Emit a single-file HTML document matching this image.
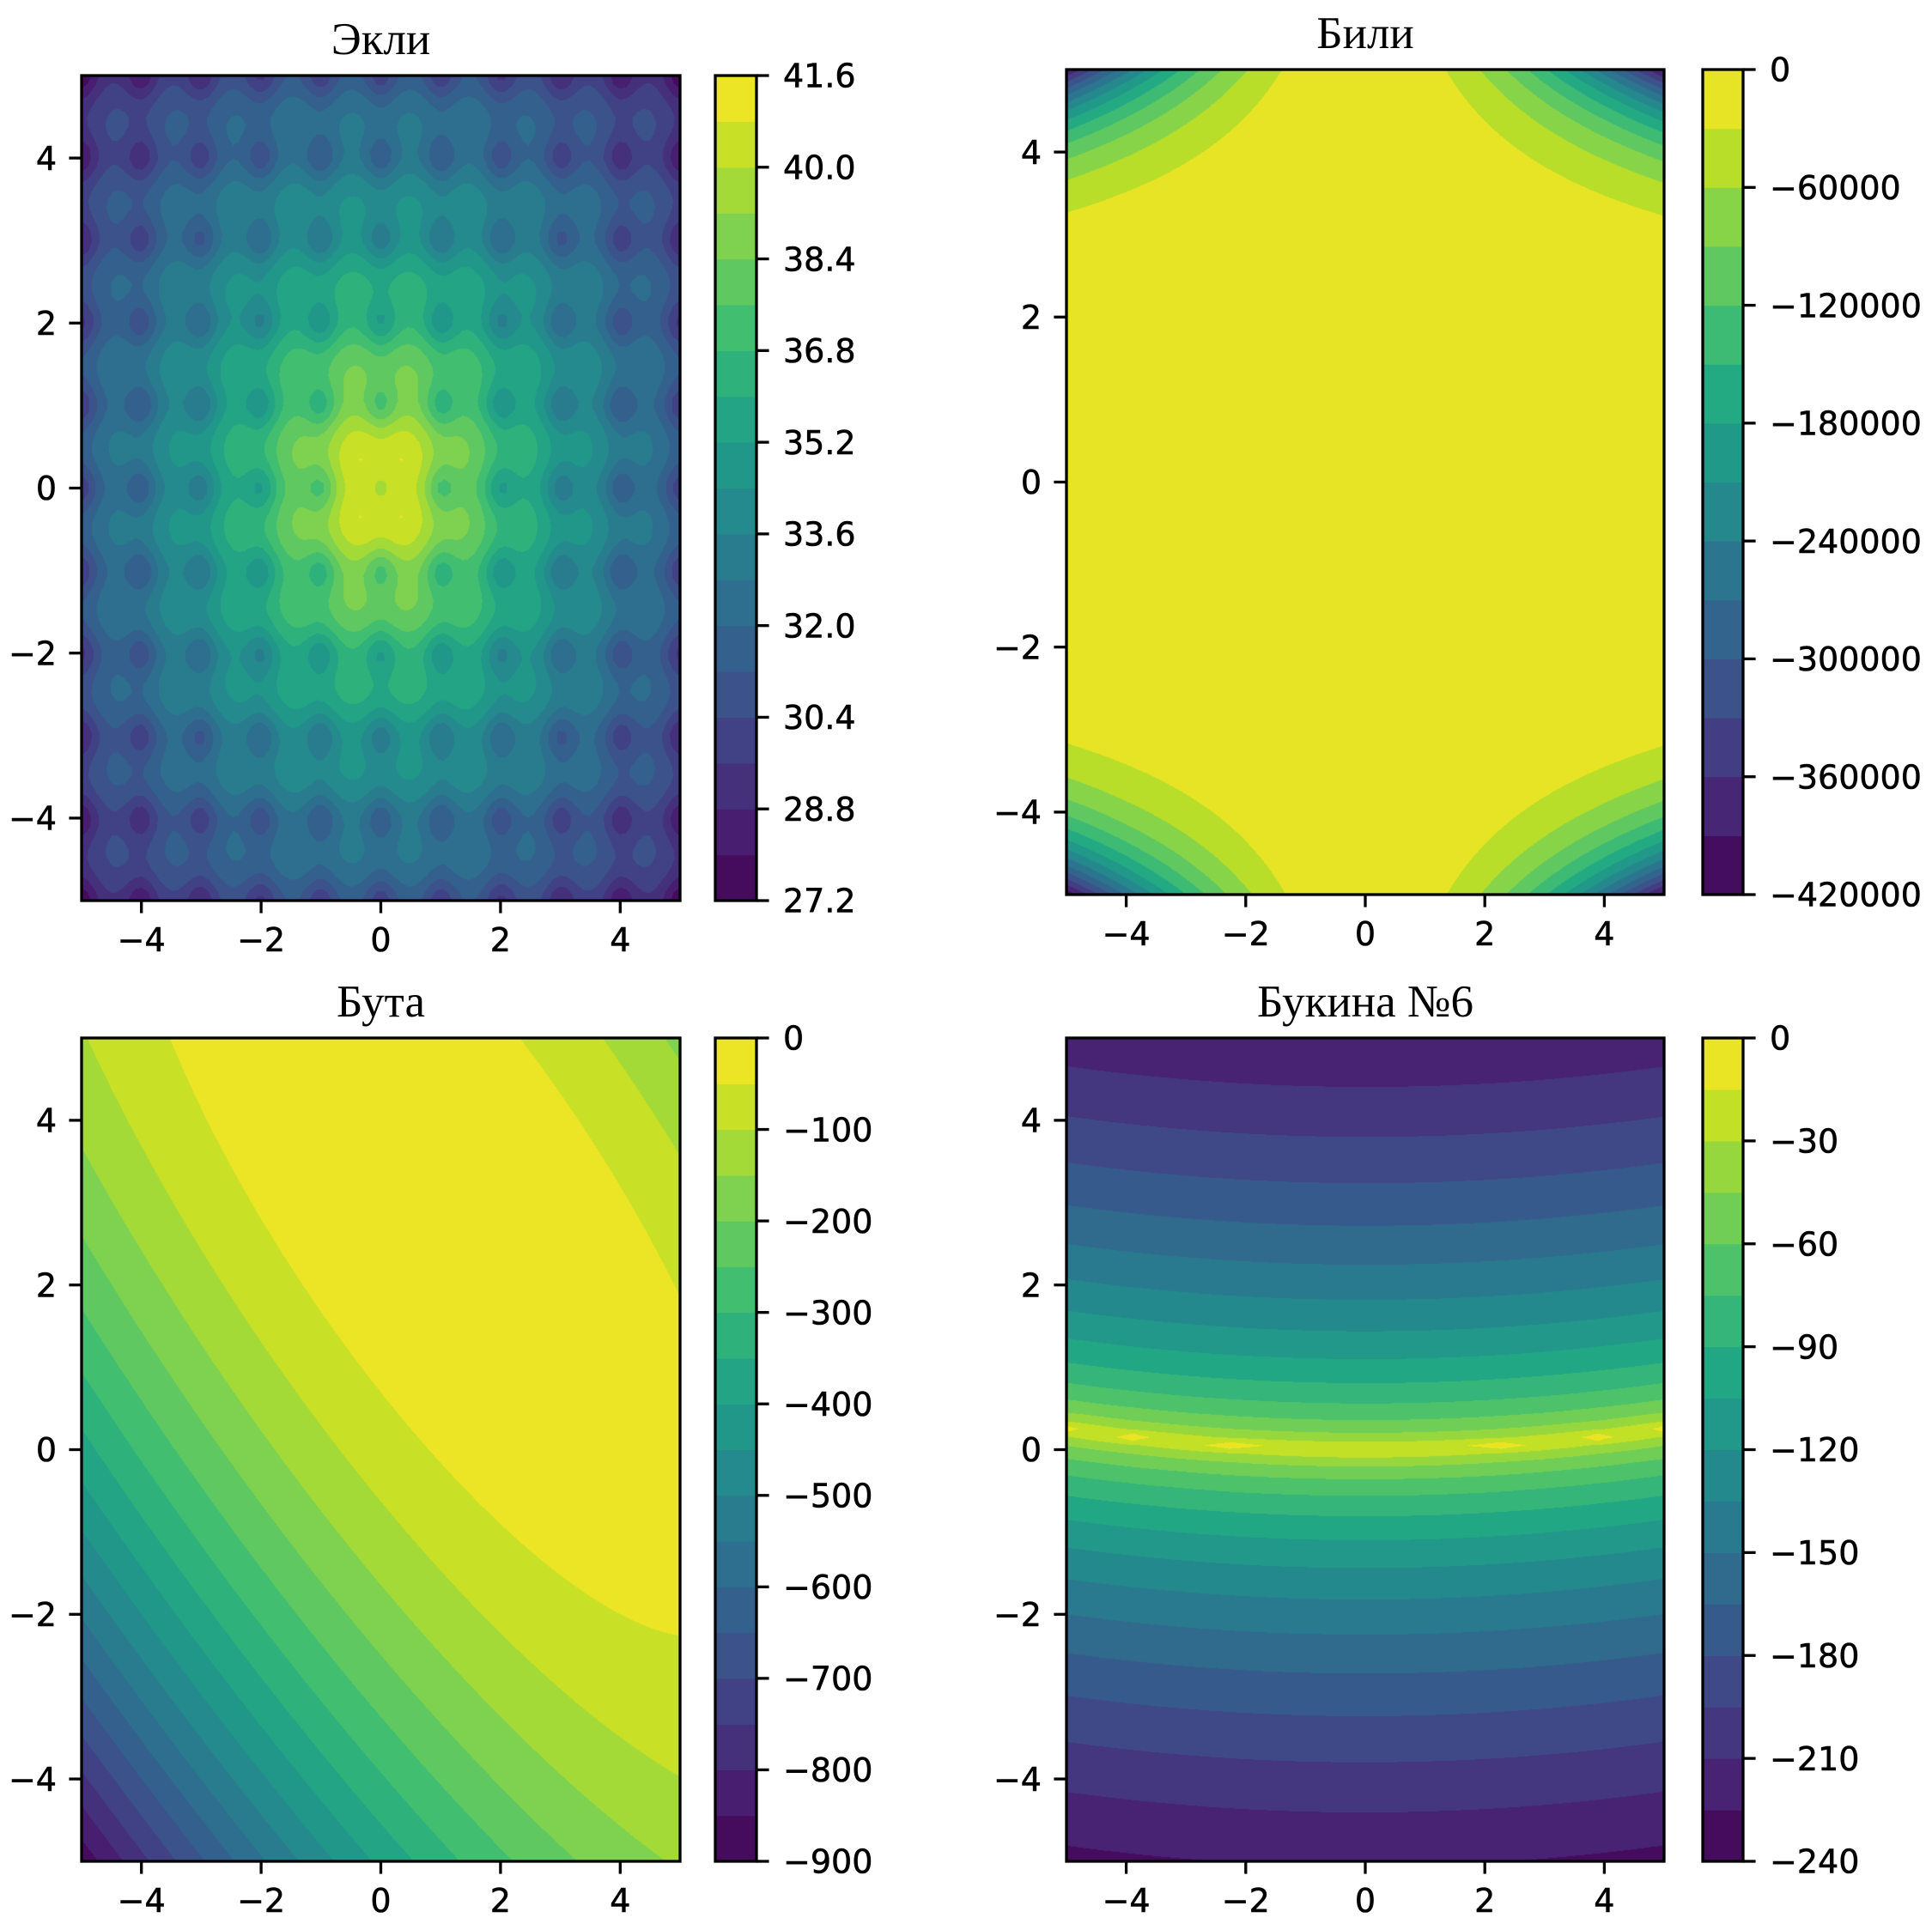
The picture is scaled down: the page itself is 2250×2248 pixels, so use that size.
<!DOCTYPE html>
<html><head><meta charset="utf-8">
<style>
html,body{margin:0;padding:0;background:#fff;}
#wrap{position:relative;width:2250px;height:2248px;overflow:hidden;background:#fff;}
canvas{position:absolute;}
svg{position:absolute;left:0;top:0;}
</style></head>
<body>
<div id="wrap">
<canvas id="c0"></canvas>
<canvas id="c1"></canvas>
<canvas id="c2"></canvas>
<canvas id="c3"></canvas>
<svg id="ov" width="2250" height="2248"></svg>
</div>
<script>
// ---- data ----
const xTicks = [-4, -2, 0, 2, 4];
const yTicks = [-4, -2, 0, 2, 4];
const titles = ["Экли", "Били", "Бута", "Букина №6"];
const ackleyLevelRange = [27.2, 41.6];
const ackleyBands = 18;
const ackleyCbTicks = [27.2, 28.8, 30.4, 32.0, 33.6, 35.2, 36.8, 38.4, 40.0, 41.6];
const bealeLevelRange = [-420000, 0];
const bealeBands = 14;
const bealeCbTicks = [-420000, -360000, -300000, -240000, -180000, -120000, -60000, 0];
const boothLevelRange = [-900, 0];
const boothBands = 18;
const boothCbTicks = [-900, -800, -700, -600, -500, -400, -300, -200, -100, 0];
const bukinLevelRange = [-240, 0];
const bukinBands = 16;
const bukinCbTicks = [-240, -210, -180, -150, -120, -90, -60, -30, 0];
const gridN = 100;

const VIR = ["#440154","#482475","#414487","#355f8d","#2a788e","#21918c","#22a884","#44bf70","#7ad151","#bddf26","#fde725"];
function hex(h){return [parseInt(h.substr(1,2),16),parseInt(h.substr(3,2),16),parseInt(h.substr(5,2),16)];}
const VIRC = VIR.map(hex);
function viridis(t){
  t=Math.max(0,Math.min(1,t))*10; const i=Math.min(9,Math.floor(t)); const f=t-i;
  const a=VIRC[i], b=VIRC[i+1];
  return [Math.round(a[0]+(b[0]-a[0])*f),Math.round(a[1]+(b[1]-a[1])*f),Math.round(a[2]+(b[2]-a[2])*f)];
}
const E=Math.E, PI=Math.PI;
const fns = [
  (x,y)=>20*Math.exp(-0.2*Math.sqrt(0.5*(x*x+y*y))) - Math.exp(0.5*(Math.cos(2*PI*x)+Math.cos(2*PI*y))) + E + 20,
  (x,y)=>-(Math.pow(1.5-x+x*y,2)+Math.pow(2.25-x+x*y*y,2)+Math.pow(2.625-x+x*y*y*y,2)),
  (x,y)=>-(Math.pow(x+2*y-7,2)+Math.pow(2*x+y-5,2)),
  (x,y)=>-(100*Math.sqrt(Math.abs(y-0.01*x*x))+0.01*Math.abs(x+10))
];
const ranges=[ackleyLevelRange,bealeLevelRange,boothLevelRange,bukinLevelRange];
const bands=[ackleyBands,bealeBands,boothBands,bukinBands];
const cbTicks=[ackleyCbTicks,bealeCbTicks,boothCbTicks,bukinCbTicks];
const decimals=[1,0,0,0];
const boxes=[
  {x0:95,y0:88,x1:792,y1:1049,c0:833,c1:881},
  {x0:1242,y0:81,x1:1938,y1:1042,c0:1983,c1:2030},
  {x0:95,y0:1209,x1:792,y1:2168,c0:833,c1:881},
  {x0:1242,y0:1209,x1:1938,y1:2168,c0:1983,c1:2030}
];
const NS="http://www.w3.org/2000/svg";
const ov=document.getElementById('ov');
function mk(tag,attrs,parent){const e=document.createElementNS(NS,tag);for(const k in attrs)e.setAttribute(k,attrs[k]);(parent||ov).appendChild(e);return e;}
function fmt(v,d){const s=Math.abs(v).toFixed(d);return (v<0?"\u2212":"")+s;}
const TICKFONT='font-family:"DejaVu Sans","Liberation Sans",sans-serif;font-size:38px;fill:#000;stroke:#000;stroke-width:0.6px';

for(let p=0;p<4;p++){
  const b=boxes[p], W=b.x1-b.x0, H=b.y1-b.y0;
  const [lmin,lmax]=ranges[p], n=bands[p], step=(lmax-lmin)/n;
  const sx=v=>b.x0+(v+5)/10*W, sy=v=>b.y1-(v+5)/10*H;
  const cols=[]; for(let k=0;k<n;k++) cols.push(viridis((k+0.5)/n));
  // sample grid (like meshgrid of linspace)
  const N=gridN, gs=10/(N-1), G=new Float64Array(N*N);
  for(let a=0;a<N;a++)for(let c=0;c<N;c++)G[a*N+c]=fns[p](-5+c*gs,-5+a*gs);
  const cv=document.getElementById('c'+p);
  cv.width=W; cv.height=H; cv.style.left=b.x0+'px'; cv.style.top=b.y0+'px';
  const ctx=cv.getContext('2d'); const img=ctx.createImageData(W,H); const d=img.data;
  for(let j=0;j<H;j++){const y=5-10*(j+0.5)/H;
    let fy=(y+5)/gs; let ia=Math.min(N-2,Math.floor(fy)); fy-=ia;
    for(let i=0;i<W;i++){const x=-5+10*(i+0.5)/W;
      let fx=(x+5)/gs; let ic=Math.min(N-2,Math.floor(fx)); fx-=ic;
      const v00=G[ia*N+ic],v01=G[ia*N+ic+1],v10=G[(ia+1)*N+ic],v11=G[(ia+1)*N+ic+1];
      const v=(v00*(1-fx)+v01*fx)*(1-fy)+(v10*(1-fx)+v11*fx)*fy;
      let k=Math.floor((v-lmin)/step); if(k<0)k=0; if(k>n-1)k=n-1;
      const cc=cols[k], o=(j*W+i)*4; d[o]=cc[0];d[o+1]=cc[1];d[o+2]=cc[2];d[o+3]=255;}}
  ctx.putImageData(img,0,0);
  const g=mk('g',{});
  
  
  const fr=mk('rect',{x:b.x0,y:b.y0,width:W,height:H,fill:'none',stroke:'#000','stroke-width':3.3},g);
  
  
  const t=mk('text',{x:(b.x0+b.x1)/2,y:b.y0-25,'text-anchor':'middle',style:'font-family:"Liberation Serif","DejaVu Serif",serif;font-size:53px;fill:#000'},g);
  t.textContent=titles[p];
  
  
  for(const v of xTicks){
    const X=sx(v);
    mk('line',{x1:X,x2:X,y1:b.y1,y2:b.y1+14.6,stroke:'#000','stroke-width':3.3},g);
    const tx=mk('text',{x:X,y:b.y1+59,'text-anchor':'middle',style:TICKFONT},g);
    tx.textContent=fmt(v,0);
    
    
  }
  for(const v of yTicks){
    const Y=sy(v);
    mk('line',{x1:b.x0-14.6,x2:b.x0,y1:Y,y2:Y,stroke:'#000','stroke-width':3.3},g);
    const ty=mk('text',{x:b.x0-29,y:Y+13.7,'text-anchor':'end',style:TICKFONT},g);
    ty.textContent=fmt(v,0);
    
    
  }
  const cb=mk('g',{},g);
  
  
  const cy=v=>b.y1-(v-lmin)/(lmax-lmin)*H;
  for(let k=0;k<n;k++){
    const c=cols[k]; const ya=cy(lmin+(k+1)*step), yb=cy(lmin+k*step);
    const r=mk('rect',{x:b.c0,y:ya,width:b.c1-b.c0,height:yb-ya+0.6,fill:'rgb('+c.join(',')+')'},cb);
    
    
  }
  mk('rect',{x:b.c0,y:b.y0,width:b.c1-b.c0,height:H,fill:'none',stroke:'#000','stroke-width':3.3},cb);
  for(const v of cbTicks[p]){
    const Y=cy(v);
    mk('line',{x1:b.c1,x2:b.c1+14.6,y1:Y,y2:Y,stroke:'#000','stroke-width':3.3},cb);
    const tl=mk('text',{x:b.c1+31,y:Y+13.7,'text-anchor':'start',style:TICKFONT},cb);
    tl.textContent=fmt(v,decimals[p]);
    
    
  }
}
</script>
</body></html>
